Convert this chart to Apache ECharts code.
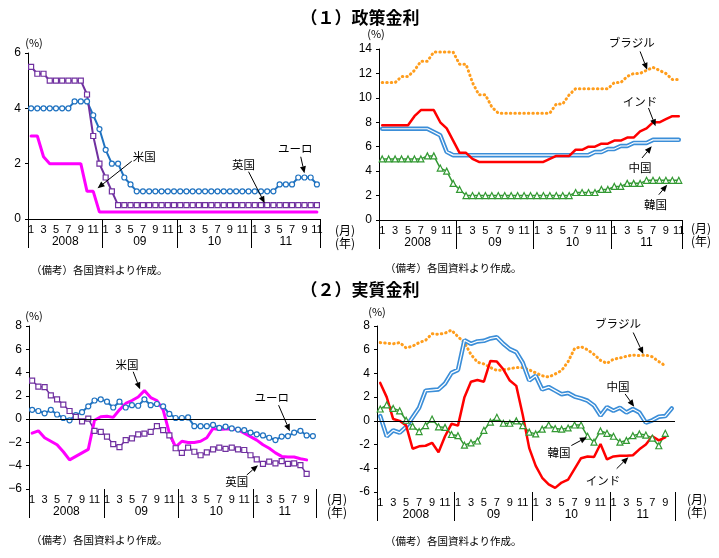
<!DOCTYPE html>
<html>
<head>
<meta charset="utf-8">
<script src="https://cdn.jsdelivr.net/npm/echarts@6/dist/echarts.min.js"></script>
<style>html,body{margin:0;padding:0;background:#fff}#main{width:719px;height:558px}</style>
</head>
<body>
<div id="main"></div>
<script>
// 月ラベル（政策金利は2008/1〜2011/11、実質金利は2008/1〜2011/10）
var monthsPolicy = ['1','2','3','4','5','6','7','8','9','10','11','12',
  '1','2','3','4','5','6','7','8','9','10','11','12',
  '1','2','3','4','5','6','7','8','9','10','11','12',
  '1','2','3','4','5','6','7','8','9','10','11'];
var monthsReal = ['1','2','3','4','5','6','7','8','9','10','11','12',
  '1','2','3','4','5','6','7','8','9','10','11','12',
  '1','2','3','4','5','6','7','8','9','10','11','12',
  '1','2','3','4','5','6','7','8','9','10'];
var yearLabels = ['2008', '09', '10', '11'];

// (1) 政策金利
var policyEuro = [4, 4, 4, 4, 4, 4, 4, 4.25, 4.25, 4.25, 3.75, 3.25,
  2.5, 2, 2, 1.5, 1.25, 1, 1, 1, 1, 1, 1, 1,
  1, 1, 1, 1, 1, 1, 1, 1, 1, 1, 1, 1,
  1, 1, 1, 1, 1.25, 1.25, 1.25, 1.5, 1.5, 1.5, 1.25];
var policyUK = [5.5, 5.25, 5.25, 5, 5, 5, 5, 5, 5, 4.5, 3, 2,
  1.5, 1, 0.5, 0.5, 0.5, 0.5, 0.5, 0.5, 0.5, 0.5, 0.5, 0.5,
  0.5, 0.5, 0.5, 0.5, 0.5, 0.5, 0.5, 0.5, 0.5, 0.5, 0.5, 0.5,
  0.5, 0.5, 0.5, 0.5, 0.5, 0.5, 0.5, 0.5, 0.5, 0.5, 0.5];
var policyUS = [3, 3, 2.25, 2, 2, 2, 2, 2, 2, 1, 1, 0.25,
  0.25, 0.25, 0.25, 0.25, 0.25, 0.25, 0.25, 0.25, 0.25, 0.25, 0.25, 0.25,
  0.25, 0.25, 0.25, 0.25, 0.25, 0.25, 0.25, 0.25, 0.25, 0.25, 0.25, 0.25,
  0.25, 0.25, 0.25, 0.25, 0.25, 0.25, 0.25, 0.25, 0.25, 0.25, 0.25];
var policyBrazil = [11.25, 11.25, 11.25, 11.75, 11.75, 12.25, 13, 13, 13.75, 13.75, 13.75, 13.75,
  12.75, 12.75, 11.25, 10.25, 10.25, 9.25, 8.75, 8.75, 8.75, 8.75, 8.75, 8.75,
  8.75, 8.75, 8.75, 9.5, 9.5, 10.25, 10.75, 10.75, 10.75, 10.75, 10.75, 10.75,
  11.25, 11.25, 11.75, 12, 12, 12.25, 12.5, 12.25, 12, 11.5, 11.5];
var policyIndia = [7.75, 7.75, 7.75, 7.75, 7.75, 8.5, 9, 9, 9, 8, 7.5, 6.5,
  5.5, 5.5, 5, 4.75, 4.75, 4.75, 4.75, 4.75, 4.75, 4.75, 4.75, 4.75,
  4.75, 4.75, 5, 5.25, 5.25, 5.25, 5.75, 5.75, 6, 6, 6.25, 6.25,
  6.5, 6.5, 6.75, 6.75, 7.25, 7.5, 8, 8, 8.25, 8.5, 8.5];
var policyChina = [7.47, 7.47, 7.47, 7.47, 7.47, 7.47, 7.47, 7.47, 7.2, 6.93, 5.58, 5.31,
  5.31, 5.31, 5.31, 5.31, 5.31, 5.31, 5.31, 5.31, 5.31, 5.31, 5.31, 5.31,
  5.31, 5.31, 5.31, 5.31, 5.31, 5.31, 5.31, 5.31, 5.31, 5.56, 5.56, 5.81,
  5.81, 6.06, 6.06, 6.31, 6.31, 6.31, 6.56, 6.56, 6.56, 6.56, 6.56];
var policyKorea = [5, 5, 5, 5, 5, 5, 5, 5.25, 5.25, 4.25, 4, 3,
  2.5, 2, 2, 2, 2, 2, 2, 2, 2, 2, 2, 2,
  2, 2, 2, 2, 2, 2, 2.25, 2.25, 2.25, 2.25, 2.5, 2.5,
  2.75, 2.75, 3, 3, 3, 3.25, 3.25, 3.25, 3.25, 3.25, 3.25];

// (2) 実質金利
var realEuro = [0.8, 0.7, 0.5, 0.8, 0.4, 0.1, -0.1, 0.35, 0.6, 1.1, 1.6, 1.7,
  1.5, 1.0, 1.5, 1.0, 1.2, 1.15, 1.7, 1.2, 1.3, 1.1, 0.45, 0.1,
  0.1, 0.15, -0.6, -0.6, -0.6, -0.5, -0.75, -0.65, -0.8, -0.9, -0.95, -1.15,
  -1.3, -1.4, -1.6, -1.8, -1.5, -1.45, -1.15, -1.0, -1.4, -1.45];
var realUK = [3.3, 2.8, 2.75, 2.05, 1.7, 1.25, 0.7, 0.2, -0.2, 0.05, -1.0, -1.1,
  -1.5, -2.15, -2.4, -1.8, -1.65, -1.3, -1.25, -1.1, -0.6, -0.95, -1.4, -2.5,
  -2.9, -2.45, -2.8, -3.1, -2.85, -2.6, -2.45, -2.55, -2.45, -2.6, -2.65, -3.1,
  -3.45, -3.85, -3.65, -3.8, -3.6, -3.85, -3.8, -3.95, -4.7];
var realUS = [-1.2, -1.0, -1.6, -1.9, -2.2, -2.8, -3.5, -3.2, -2.9, -2.6, -0.1, 0.2,
  0.25, 0.15, 0.8, 1.35, 1.6, 1.9, 2.45, 1.85, 1.6, 0.8, -1.2, -2.4,
  -1.9, -2.0, -2.0, -1.9, -1.6, -0.8, -0.9, -0.85, -0.85, -0.9, -1.2, -1.5,
  -1.8, -2.2, -2.5, -2.9, -3.2, -3.25, -3.25, -3.4, -3.5];
var realBrazil = [6.6, 6.55, 6.5, 6.6, 6.15, 6.3, 6.6, 6.8, 7.35, 7.3, 7.4, 7.65,
  7.1, 6.6, 5.6, 4.95, 4.8, 4.5, 4.25, 4.3, 4.4, 4.5, 4.5, 4.3,
  4.05, 3.8, 3.7, 3.95, 4.25, 5.0, 6.1, 6.25, 6.0, 5.6, 5.1, 4.85,
  5.2, 5.3, 5.45, 5.55, 5.5, 5.55, 5.4, 5.0, 4.65];
var realChina = [0.4, -1.3, -0.8, -1.0, -0.5, 0.3, 1.1, 2.55, 2.6, 2.65, 3.15, 4.05,
  4.3, 6.8, 6.5, 6.7, 6.75, 6.95, 7.05, 6.5, 6.05, 5.8, 4.9, 3.4,
  3.8, 2.65, 2.85, 2.55, 2.25, 2.35, 2.05, 1.9, 1.7, 1.3, 0.45, 1.15,
  0.85, 1.1, 0.7, 1.0, 0.7, -0.15, 0.05, 0.35, 0.4, 1.05];
var realIndia = [3.2, 2.0, 0.15, 0.0, -0.4, -2.35, -2.15, -2.1, -1.85, -2.65, -1.3, -0.25,
  -0.4, 2.0, 3.3, 3.45, 3.3, 5.05, 5.0, 4.35, 3.4, 2.95, 0.5, -2.3,
  -3.8, -4.8, -5.35, -5.65, -5.2, -4.95, -4.05, -3.15, -3.0, -3.05, -1.95, -3.25,
  -3.0, -2.95, -2.95, -2.9, -2.4, -2.0, -1.3, -1.65, -1.4];
var realKorea = [1.0, 1.35, 1.05, 0.85, 0.05, -0.45, -0.9, -0.4, 0.15, -0.5, -0.55, -1.15,
  -1.25, -2.05, -1.85, -1.7, -0.8, -0.1, 0.3, -0.2, -0.2, 0.0, -0.4, -0.95,
  -1.1, -0.7, -0.35, -0.65, -0.7, -0.6, -0.35, -0.35, -1.3, -1.8, -0.85, -1.05,
  -1.3, -1.8, -1.65, -1.25, -1.1, -1.2, -1.45, -2.1, -1.05];

// 吹き出し（x は 2008年1月からの月数）
var callouts = [
  {p: 0, text: '米国', at: [18.7, 2.27], from: [16.7, 2.09], to: [11.2, 1.11]},
  {p: 0, text: '英国', at: [34.7, 1.95], from: [35.5, 1.71], to: [38.1, 0.57]},
  {p: 0, text: 'ユーロ', at: [43.0, 2.55], from: [43.9, 2.25], to: [44.5, 1.65]},
  {p: 1, text: 'ブラジル', at: [39.2, 14.5], from: [40.5, 13.8], to: [41.6, 12.3]},
  {p: 1, text: 'インド', at: [40.5, 9.7], from: [41.8, 9.17], to: [42.9, 7.67]},
  {p: 1, text: '中国', at: [40.5, 4.26], from: [40.8, 5.08], to: [42.3, 6.03]},
  {p: 1, text: '韓国', at: [42.9, 1.25], from: [43.4, 2.07], to: [44.7, 2.89]},
  {p: 2, text: '米国', at: [15.7, 4.65], from: [16.7, 4.07], to: [17.8, 2.56]},
  {p: 2, text: 'ユーロ', at: [38.9, 1.83], from: [40.0, 1.2], to: [41.8, -1.03]},
  {p: 2, text: '英国', at: [33.3, -5.4], from: [34.9, -4.8], to: [36.7, -3.96]},
  {p: 3, text: 'ブラジル', at: [37.2, 8.2], from: [39.55, 7.45], to: [41.1, 5.63]},
  {p: 3, text: '中国', at: [37.2, 2.88], from: [38.3, 2.27], to: [39.7, 1.2]},
  {p: 3, text: '韓国', at: [28.1, -2.64], from: [30.0, -2.08], to: [32.4, -1.38]},
  {p: 3, text: 'インド', at: [34.9, -5.02], from: [37.0, -4.03], to: [38.8, -3.06]}
];

var LATIN = 'Liberation Sans, Arial, sans-serif';
var CJK = 'Noto Sans CJK JP, sans-serif';

var chart = echarts.init(document.getElementById('main'));

var grids = [
  {left: 28, top: 53, width: 292, height: 166},
  {left: 379, top: 49, width: 303, height: 171},
  {left: 29, top: 326, width: 287, height: 163},
  {left: 377, top: 326, width: 298, height: 166}
];
var panelMonths = [monthsPolicy, monthsPolicy, monthsReal, monthsReal];
var panelY = [[0, 6], [0, 14], [-6, 8], [-6, 8]];

var xAxes = [], yAxes = [];
panelMonths.forEach(function (months, p) {
  var n = months.length;
  // 月
  xAxes.push({
    type: 'category', gridIndex: p, data: months, boundaryGap: true,
    axisLine: {show: p < 2, onZero: false, lineStyle: {color: '#000', width: 1}},
    axisTick: {show: false},
    splitLine: {show: false},
    axisLabel: {
      interval: function (i, v) { return Number(v) % 2 === 1; },
      color: '#000', fontSize: 11, fontFamily: LATIN, margin: 5
    }
  });
  // 年（区切り線と年ラベル）
  xAxes.push({
    type: 'value', gridIndex: p, min: 0, max: n, position: 'bottom',
    axisLine: {show: false, onZero: false}, splitLine: {show: false},
    axisTick: {show: true, customValues: [0, 12, 24, 36, n], length: 29,
      lineStyle: {color: '#000', width: 1}},
    axisLabel: {
      customValues: [6, 18, 30, (36 + n) / 2],
      formatter: function (v) { return yearLabels[Math.floor(v / 12)]; },
      color: '#000', fontSize: 12, fontFamily: LATIN, margin: 17
    }
  });
  yAxes.push({
    type: 'value', gridIndex: p, min: panelY[p][0], max: panelY[p][1], interval: 2,
    axisLine: {show: true, lineStyle: {color: '#000', width: 1}},
    axisTick: {show: true, length: 3, lineStyle: {color: '#000'}},
    splitLine: {show: false},
    axisLabel: {
      color: '#000', fontSize: 12, fontFamily: LATIN, margin: 7,
      formatter: p === 2 ? function (v) { return String(v).replace('-', '\u2212'); } : null
    }
  });
});

function hollow(p, data, color, symbol, size, width) {
  return {
    type: 'line', xAxisIndex: p * 2, yAxisIndex: p, data: data,
    symbol: symbol, symbolSize: size, showAllSymbol: true,
    lineStyle: {color: color, width: width},
    itemStyle: {color: '#fff', borderColor: color, borderWidth: 1.2},
    emphasis: {disabled: true}
  };
}
function plain(p, data, color, width, type) {
  return {
    type: 'line', xAxisIndex: p * 2, yAxisIndex: p, data: data,
    symbol: 'none', lineStyle: {color: color, width: width, type: type || 'solid', cap: 'round'},
    emphasis: {disabled: true}
  };
}
var zeroLine = {
  silent: true, symbol: ['none', 'none'], label: {show: false},
  lineStyle: {color: '#000', width: 1, type: 'solid'}, data: [{yAxis: 0}]
};

var series = [
  hollow(0, policyEuro, '#1f72c0', 'circle', 5, 2),
  hollow(0, policyUK, '#7030a0', 'rect', 5, 2),
  plain(0, policyUS, '#ff00ff', 3),

  plain(1, policyBrazil, '#ff9d1c', 3, [0.5, 4]),
  plain(1, policyChina, '#3b8ed8', 4.5),
  plain(1, policyChina, '#ffffff', 1.2),
  hollow(1, policyKorea, '#339933', 'triangle', 6, 1.5),
  plain(1, policyIndia, '#ff0000', 2.5),

  hollow(2, realEuro, '#1f72c0', 'circle', 5, 2),
  hollow(2, realUK, '#7030a0', 'rect', 5, 1.5),
  plain(2, realUS, '#ff00ff', 3),

  plain(3, realBrazil, '#ff9d1c', 3, [0.5, 4]),
  hollow(3, realKorea, '#339933', 'triangle', 6, 1.5),
  plain(3, realChina, '#3b8ed8', 4.5),
  plain(3, realChina, '#ffffff', 1.2),
  plain(3, realIndia, '#ff0000', 2.5)
];
series[8].markLine = zeroLine;
series[11].markLine = zeroLine;

chart.setOption({
  animation: false,
  backgroundColor: '#fff',
  grid: grids,
  xAxis: xAxes,
  yAxis: yAxes,
  series: series
});

function txt(x, y, s, size, font, align, weight) {
  return {
    type: 'text', x: x, y: y, z: 100,
    style: {text: s, fill: '#000', fontSize: size, fontFamily: font, fontWeight: weight || 'normal',
      align: align || 'center', textAlign: align || 'center',
      verticalAlign: 'middle', textVerticalAlign: 'middle'}
  };
}

var graphics = [
  txt(360, 18, '（１）政策金利', 17, CJK, 'center', 'bold'),
  txt(360, 290, '（２）実質金利', 17, CJK, 'center', 'bold'),
  txt(31, 270, '（備考）各国資料より作成。', 10.5, CJK, 'left'),
  txt(385, 268, '（備考）各国資料より作成。', 10.5, CJK, 'left'),
  txt(31, 540, '（備考）各国資料より作成。', 10.5, CJK, 'left'),
  txt(385, 541, '（備考）各国資料より作成。', 10.5, CJK, 'left'),
  txt(34, 43, '(%)', 11, CJK),
  txt(376, 34, '(%)', 11, CJK),
  txt(34, 316, '(%)', 11, CJK),
  txt(377, 312, '(%)', 11, CJK),
  txt(345, 230, '(月)', 12, CJK), txt(345, 243, '(年)', 12, CJK),
  txt(701, 228, '(月)', 12, CJK), txt(701, 241, '(年)', 12, CJK),
  txt(337, 499, '(月)', 12, CJK), txt(337, 512, '(年)', 12, CJK),
  txt(697, 499, '(月)', 12, CJK), txt(697, 512, '(年)', 12, CJK)
];

callouts.forEach(function (c) {
  var f = {xAxisIndex: c.p * 2 + 1, yAxisIndex: c.p};
  var t = chart.convertToPixel(f, c.at);
  var a = chart.convertToPixel(f, c.from);
  var b = chart.convertToPixel(f, c.to);
  graphics.push(txt(t[0], t[1], c.text, 11.5, CJK));
  var ang = Math.atan2(b[1] - a[1], b[0] - a[0]);
  var L = 7, W = 3;
  var bx = b[0] - L * Math.cos(ang), by = b[1] - L * Math.sin(ang);
  graphics.push({type: 'line', z: 100,
    shape: {x1: a[0], y1: a[1], x2: bx, y2: by},
    style: {stroke: '#000', lineWidth: 1}});
  graphics.push({type: 'polygon', z: 100,
    shape: {points: [b, [bx + W * Math.sin(ang), by - W * Math.cos(ang)],
      [bx - W * Math.sin(ang), by + W * Math.cos(ang)]]},
    style: {fill: '#000'}});
});

chart.setOption({graphic: graphics});
</script>
</body>
</html>
